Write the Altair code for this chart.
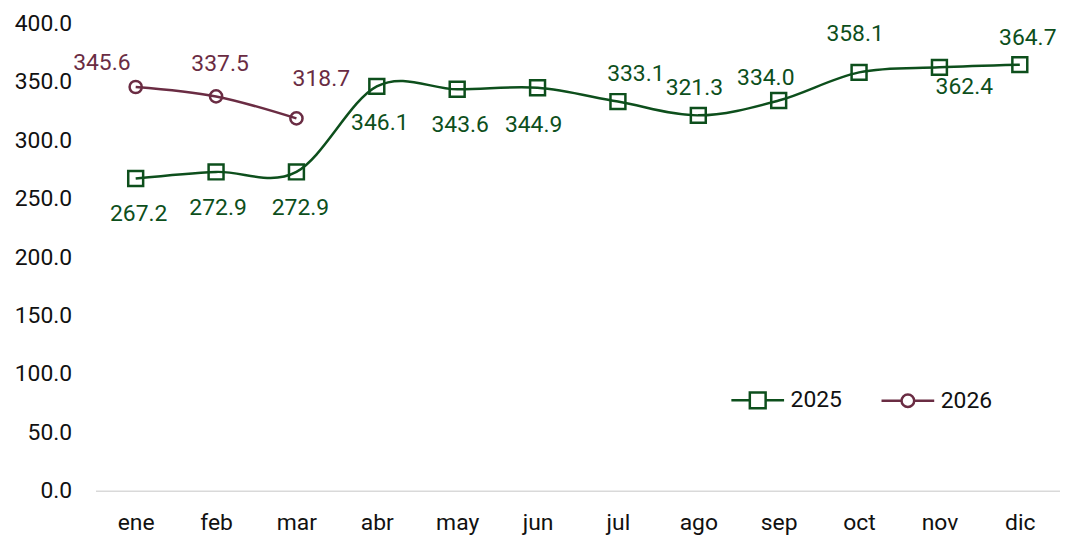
import altair as alt
import pandas as pd

months = ["ene", "feb", "mar", "abr", "may", "jun", "jul", "ago", "sep", "oct", "nov", "dic"]
values_2025 = [267.2, 272.9, 272.9, 346.1, 343.6, 344.9, 333.1, 321.3, 334.0, 358.1, 362.4, 364.7]
values_2026 = [345.6, 337.5, 318.7]

# label nudges in pixels (style only)
label_dx_2025 = [3, 2, 4, 3, 3, -4, 18, -4, -13, -4, 25, 8]
label_dy_2025 = [36, 36, 36, 37, 36, 37, -28, -27, -23, -39, 20, -27]
label_dx_2026 = [-34, 4, 25]
label_dy_2026 = [-24, -33, -40]

GREEN = "#0D4F1C"
MAROON = "#6A2C43"
FONT = "Roboto"
FS = 23

rows = []
for i, v in enumerate(values_2025):
    rows.append({"mes": months[i], "year": "2025", "v": v,
                 "dx": label_dx_2025[i], "dy": label_dy_2025[i]})
for i, v in enumerate(values_2026):
    rows.append({"mes": months[i], "year": "2026", "v": v,
                 "dx": label_dx_2026[i], "dy": label_dy_2026[i]})
df = pd.DataFrame(rows)

# legend glyphs: line stub + hollow marker (marker traced both ways so it has no filled area)
sq_path = ("M-1,0H-0.3M0.3,0H1"
           "M-0.3,-0.3H0.3V0.3H-0.3Z"
           "M-0.3,-0.3V0.3H0.3V-0.3Z")
ci_path = ("M-1,0H-0.24M0.24,0H1"
           "M0.24,0A0.24,0.24,0,1,1,-0.24,0A0.24,0.24,0,1,1,0.24,0Z"
           "M0.24,0A0.24,0.24,0,1,0,-0.24,0A0.24,0.24,0,1,0,0.24,0Z")

x_enc = alt.X("mes:N", sort=months, scale=alt.Scale(domain=months, padding=0.5),
              axis=alt.Axis(title=None, labelAngle=0, ticks=False, domainColor="#d9d9d9",
                            domainWidth=1.5, labelFontSize=FS, labelColor="#111111",
                            labelFont=FONT, labelPadding=21))
y_enc = alt.Y("v:Q", scale=alt.Scale(domain=[0, 400], nice=False),
              axis=alt.Axis(title=None, values=[0, 50, 100, 150, 200, 250, 300, 350, 400],
                            format=".1f", grid=False, ticks=False, domain=False,
                            labelFontSize=FS, labelColor="#111111", labelFont=FONT,
                            labelPadding=24))
color_scale = alt.Scale(domain=["2025", "2026"], range=[GREEN, MAROON])

legend = alt.Legend(
    title=None, orient="none", direction="horizontal", legendX=638, legendY=351,
    labelFontSize=FS, labelFont=FONT, labelColor="#111111", labelOffset=5,
    columnPadding=34, symbolSize=2809, symbolStrokeWidth=2.5, padding=0,
    symbolFillColor="transparent",
    symbolType=alt.expr(f"datum.value === '2025' ? '{sq_path}' : '{ci_path}'"),
)

# first layer: hollow points, carries the legend
pts_2025 = alt.Chart(df).transform_filter("datum.year === '2025'").mark_point(
    filled=False, strokeWidth=2.5, opacity=1, shape="square", size=225
).encode(
    x=x_enc, y=y_enc,
    color=alt.Color("year:N", scale=color_scale, legend=legend),
)

line = alt.Chart(df).mark_line(interpolate="cardinal", strokeWidth=2.5).encode(
    x=x_enc, y=y_enc,
    color=alt.Color("year:N", scale=color_scale, legend=None),
)

pts_2026 = alt.Chart(df).transform_filter("datum.year === '2026'").mark_point(
    filled=False, strokeWidth=2.5, opacity=1, shape="circle", size=150
).encode(
    x=x_enc, y=y_enc,
    color=alt.Color("year:N", scale=color_scale, legend=None),
)

labels = alt.Chart(df).mark_text(
    font=FONT, fontSize=FS, baseline="middle", align="center",
    dx=alt.expr("datum.dx"), dy=alt.expr("datum.dy"),
).encode(
    x=x_enc, y=y_enc,
    text=alt.Text("v:Q", format=".1f"),
    color=alt.Color("year:N", scale=color_scale, legend=None),
)

chart = alt.layer(pts_2025, line, pts_2026, labels).properties(
    width=970, height=470,
    autosize=alt.AutoSizeParams(type="none"),
    padding={"left": 88, "top": 14, "right": 0, "bottom": 44},
).configure_view(stroke=None)

chart.save("out.html", embed_options={"renderer": "svg", "actions": False})
